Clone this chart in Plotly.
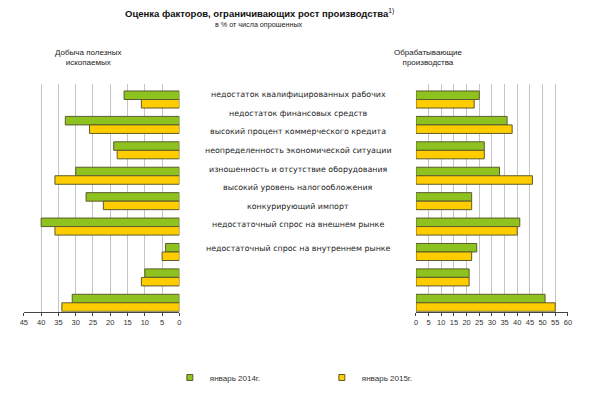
import plotly.graph_objects as go

# The page body has an 8px margin, so the figure is drawn 8px smaller and
# all reference pixel positions are shifted by that margin.
OFF = 8
FW, FH = 599 - OFF, 395 - OFF

categories = [
    "недостаток квалифицированных рабочих",
    "недостаток финансовых средств",
    "высокий процент коммерческого кредита",
    "неопределенность экономической ситуации",
    "изношенность и отсутствие оборудования",
    "высокий уровень налогообложения",
    "конкурирующий импорт",
    "недостаточный спрос на внешнем рынке",
    "недостаточный спрос на внутреннем рынке",
]
series_names = ["январь 2014г.", "январь 2015г."]

mining_2014 = [16, 33, 19, 30, 27, 40, 4, 10, 31]
mining_2015 = [11, 26, 18, 36, 22, 36, 5, 11, 34]
manuf_2014 = [25, 36, 27, 33, 22, 41, 24, 21, 51]
manuf_2015 = [23, 38, 27, 46, 22, 40, 22, 21, 55]

left_ticks = list(range(0, 50, 5))
right_ticks = list(range(0, 65, 5))

GREEN = "#8DC21F"
YELLOW = "#FFCC00"
EDGE = "#5C5C2E"


def px_x(p):
    return (p - OFF) / FW


def px_y(p):
    return 1 - (p - OFF) / FH


fig = go.Figure()

for vals, name, col, xa, ya in [
    (mining_2014, series_names[0], GREEN, "x", "y"),
    (mining_2015, series_names[1], YELLOW, "x", "y"),
    (manuf_2014, series_names[0], GREEN, "x2", "y2"),
    (manuf_2015, series_names[1], YELLOW, "x2", "y2"),
]:
    fig.add_trace(go.Bar(
        x=vals, y=categories, orientation="h", name=name,
        marker=dict(color=col, line=dict(color=EDGE, width=1)),
        xaxis=xa, yaxis=ya, showlegend=False, hoverinfo="x+y",
    ))

# legend entries
for name, col in zip(series_names, [GREEN, YELLOW]):
    fig.add_trace(go.Scatter(
        x=[None], y=[None], mode="markers", name=name,
        marker=dict(symbol="square", size=6, color=col, line=dict(color=EDGE, width=1)),
        xaxis="x2", yaxis="y2",
    ))

y_dom = [px_y(311.7), px_y(84)]
yrange = [8.35, -0.61]
tickfont = dict(family="Liberation Sans, Arial, sans-serif", size=7.5, color="#333")

common_x = dict(
    showgrid=True, gridcolor="#C4C4C4", gridwidth=1,
    showline=True, linecolor="#444", linewidth=1,
    ticks="outside", ticklen=3, tickcolor="#444",
    tickfont=tickfont, zeroline=False, fixedrange=True,
)

fig.update_layout(
    width=FW, height=FH,
    margin=dict(l=0, r=0, t=0, b=0),
    paper_bgcolor="white", plot_bgcolor="white",
    barmode="group", bargap=0.33, bargroupgap=0,
    xaxis=dict(domain=[px_x(20), px_x(177.7)], range=[45, 0], tickvals=left_ticks,
               anchor="y", **common_x),
    yaxis=dict(domain=y_dom, type="category", categoryarray=categories,
               range=yrange, showticklabels=False, showgrid=False, zeroline=False,
               anchor="x", fixedrange=True),
    xaxis2=dict(domain=[px_x(417.5), px_x(571.5)], range=[0, 60], tickvals=right_ticks,
                anchor="y2", **common_x),
    yaxis2=dict(domain=y_dom, type="category", categoryarray=categories,
                range=yrange, showticklabels=False, showgrid=False, zeroline=False,
                anchor="x2", fixedrange=True),
    showlegend=True,
    legend=dict(orientation="h", x=px_x(168), y=px_y(363), xanchor="left", yanchor="top",
                entrywidth=107, entrywidthmode="pixels", itemwidth=30,
                font=dict(family="Liberation Sans, Arial, sans-serif", size=8, color="#333"),
                bgcolor="rgba(0,0,0,0)"),
)

annots = [
    dict(text="<b>Оценка факторов, ограничивающих рост производства</b><sup>1)</sup>",
         x=px_x(259), y=px_y(13),
         font=dict(family="Liberation Sans Narrow, Arial Narrow, Liberation Sans, sans-serif",
                   size=9.5, color="#111")),
    dict(text="в % от числа опрошенных", x=px_x(258), y=px_y(24.5),
         font=dict(family="Liberation Sans, Arial, sans-serif", size=7.2, color="#222")),
    dict(text="Добыча полезных<br>ископаемых", x=px_x(86), y=px_y(58),
         font=dict(family="Liberation Sans, Arial, sans-serif", size=8, color="#222")),
    dict(text="Обрабатывающие<br>производства", x=px_x(430), y=px_y(58),
         font=dict(family="Liberation Sans, Arial, sans-serif", size=8, color="#222")),
]
label_y = [95, 113.5, 132, 150.5, 169, 187.5, 206, 225, 248]
for lab, ly in zip(categories, label_y):
    annots.append(dict(text=lab, x=px_x(298), y=px_y(ly),
                       font=dict(family="DejaVu Sans, sans-serif", size=7.9, color="#222")))
for a in annots:
    a.update(xref="paper", yref="paper", showarrow=False, xanchor="center", yanchor="middle")
fig.update_layout(annotations=annots)

fig.write_html("out.html")
